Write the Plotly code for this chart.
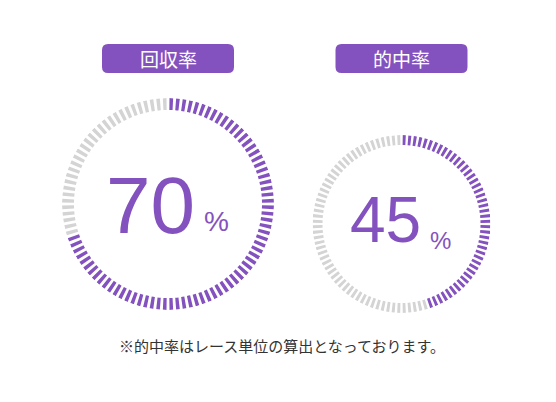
import plotly.graph_objects as go

# gauge data
gauge_labels = ["回収率", "的中率"]
gauge_values = [70, 45]
unit_label = "%"
tick_count = 100
note_text = "※的中率はレース単位の算出となっております。"

# the page has an 8px body margin, so the figure is a bit smaller than the window
OFF = 8
W, H = 556 - OFF, 402 - OFF
PURPLE = "#8452be"
GRAY = "#d4d4d4"

# pixel layout of each gauge (page coordinates)
gauges = [
    dict(cx=168, cy=204, r=106, ring=12, num=80, pct=28,
         num_dx=29, num_dy=1, pct_dx=34, pct_dy=18),
    dict(cx=401.5, cy=224, r=89, ring=10, num=64, pct=24,
         num_dx=21, num_dy=-4, pct_dx=26, pct_dy=16),
]
pill_y = (44, 73)


def px(x):
    return (x - OFF) / W


def py(y):
    return 1 - (y - OFF) / H


def pill_path(x0, x1, y0, y1, rad):
    """Rounded rectangle path in paper units (pixel inputs)"""
    rx, ry = rad / W, rad / H
    a, b = px(x0), px(x1)
    top, bot = py(y0), py(y1)
    return (f"M {a+rx},{top} L {b-rx},{top} Q {b},{top} {b},{top-ry} "
            f"L {b},{bot+ry} Q {b},{bot} {b-rx},{bot} "
            f"L {a+rx},{bot} Q {a},{bot} {a},{bot+ry} "
            f"L {a},{top-ry} Q {a},{top} {a+rx},{top} Z")


fig = go.Figure()
layout_polars = {}

for n, (label, value, g) in enumerate(zip(gauge_labels, gauge_values, gauges)):
    name = "polar" if n == 0 else f"polar{n+1}"
    step = 360 / tick_count
    thetas = [(i + 0.5) * step for i in range(tick_count)]
    colors = [PURPLE if i < value else GRAY for i in range(tick_count)]

    fig.add_trace(go.Barpolar(
        theta=thetas,
        r=[g["ring"]] * tick_count,
        base=g["r"] - g["ring"],
        width=step * 0.55,
        marker=dict(color=colors, line_width=0),
        subplot=name,
        hoverinfo="skip",
        showlegend=False,
    ))

    layout_polars[name] = dict(
        domain=dict(x=[px(g["cx"] - g["r"]), px(g["cx"] + g["r"])],
                    y=[py(g["cy"] + g["r"]), py(g["cy"] - g["r"])]),
        radialaxis=dict(visible=False, range=[0, g["r"]]),
        angularaxis=dict(visible=False, rotation=90, direction="clockwise"),
        bgcolor="white",
    )

    # title pill
    fig.add_shape(type="path", xref="paper", yref="paper",
                  path=pill_path(g["cx"] - 66, g["cx"] + 66, pill_y[0], pill_y[1], 6),
                  fillcolor=PURPLE, line_width=0)
    fig.add_annotation(x=px(g["cx"]), y=py(sum(pill_y) / 2),
                       xref="paper", yref="paper", text=label, showarrow=False,
                       font=dict(family="Noto Sans CJK JP", size=19, color="white"),
                       xanchor="center", yanchor="middle")

    # big value with unit
    fig.add_annotation(x=px(g["cx"] + g["num_dx"]), y=py(g["cy"] + g["num_dy"]),
                       xref="paper", yref="paper", text=str(value), showarrow=False,
                       font=dict(family="Liberation Sans, Arial", size=g["num"], color=PURPLE),
                       xanchor="right", yanchor="middle")
    fig.add_annotation(x=px(g["cx"] + g["pct_dx"]), y=py(g["cy"] + g["pct_dy"]),
                       xref="paper", yref="paper", text=unit_label, showarrow=False,
                       font=dict(family="Liberation Sans, Arial", size=g["pct"], color=PURPLE),
                       xanchor="left", yanchor="middle")

fig.add_annotation(x=px(282), y=py(345), xref="paper", yref="paper",
                   text=note_text, showarrow=False,
                   font=dict(family="Noto Sans CJK JP", size=15, color="#333333"),
                   xanchor="center", yanchor="middle")

# faint edge on the right side
fig.add_shape(type="rect", xref="paper", yref="paper",
              x0=px(554), x1=1, y0=0, y1=1, fillcolor="#eeeeee", line_width=0)

fig.update_layout(
    width=W, height=H,
    margin=dict(l=0, r=0, t=0, b=0),
    paper_bgcolor="white",
    plot_bgcolor="white",
    showlegend=False,
    **layout_polars,
)

fig.write_html("out.html")
